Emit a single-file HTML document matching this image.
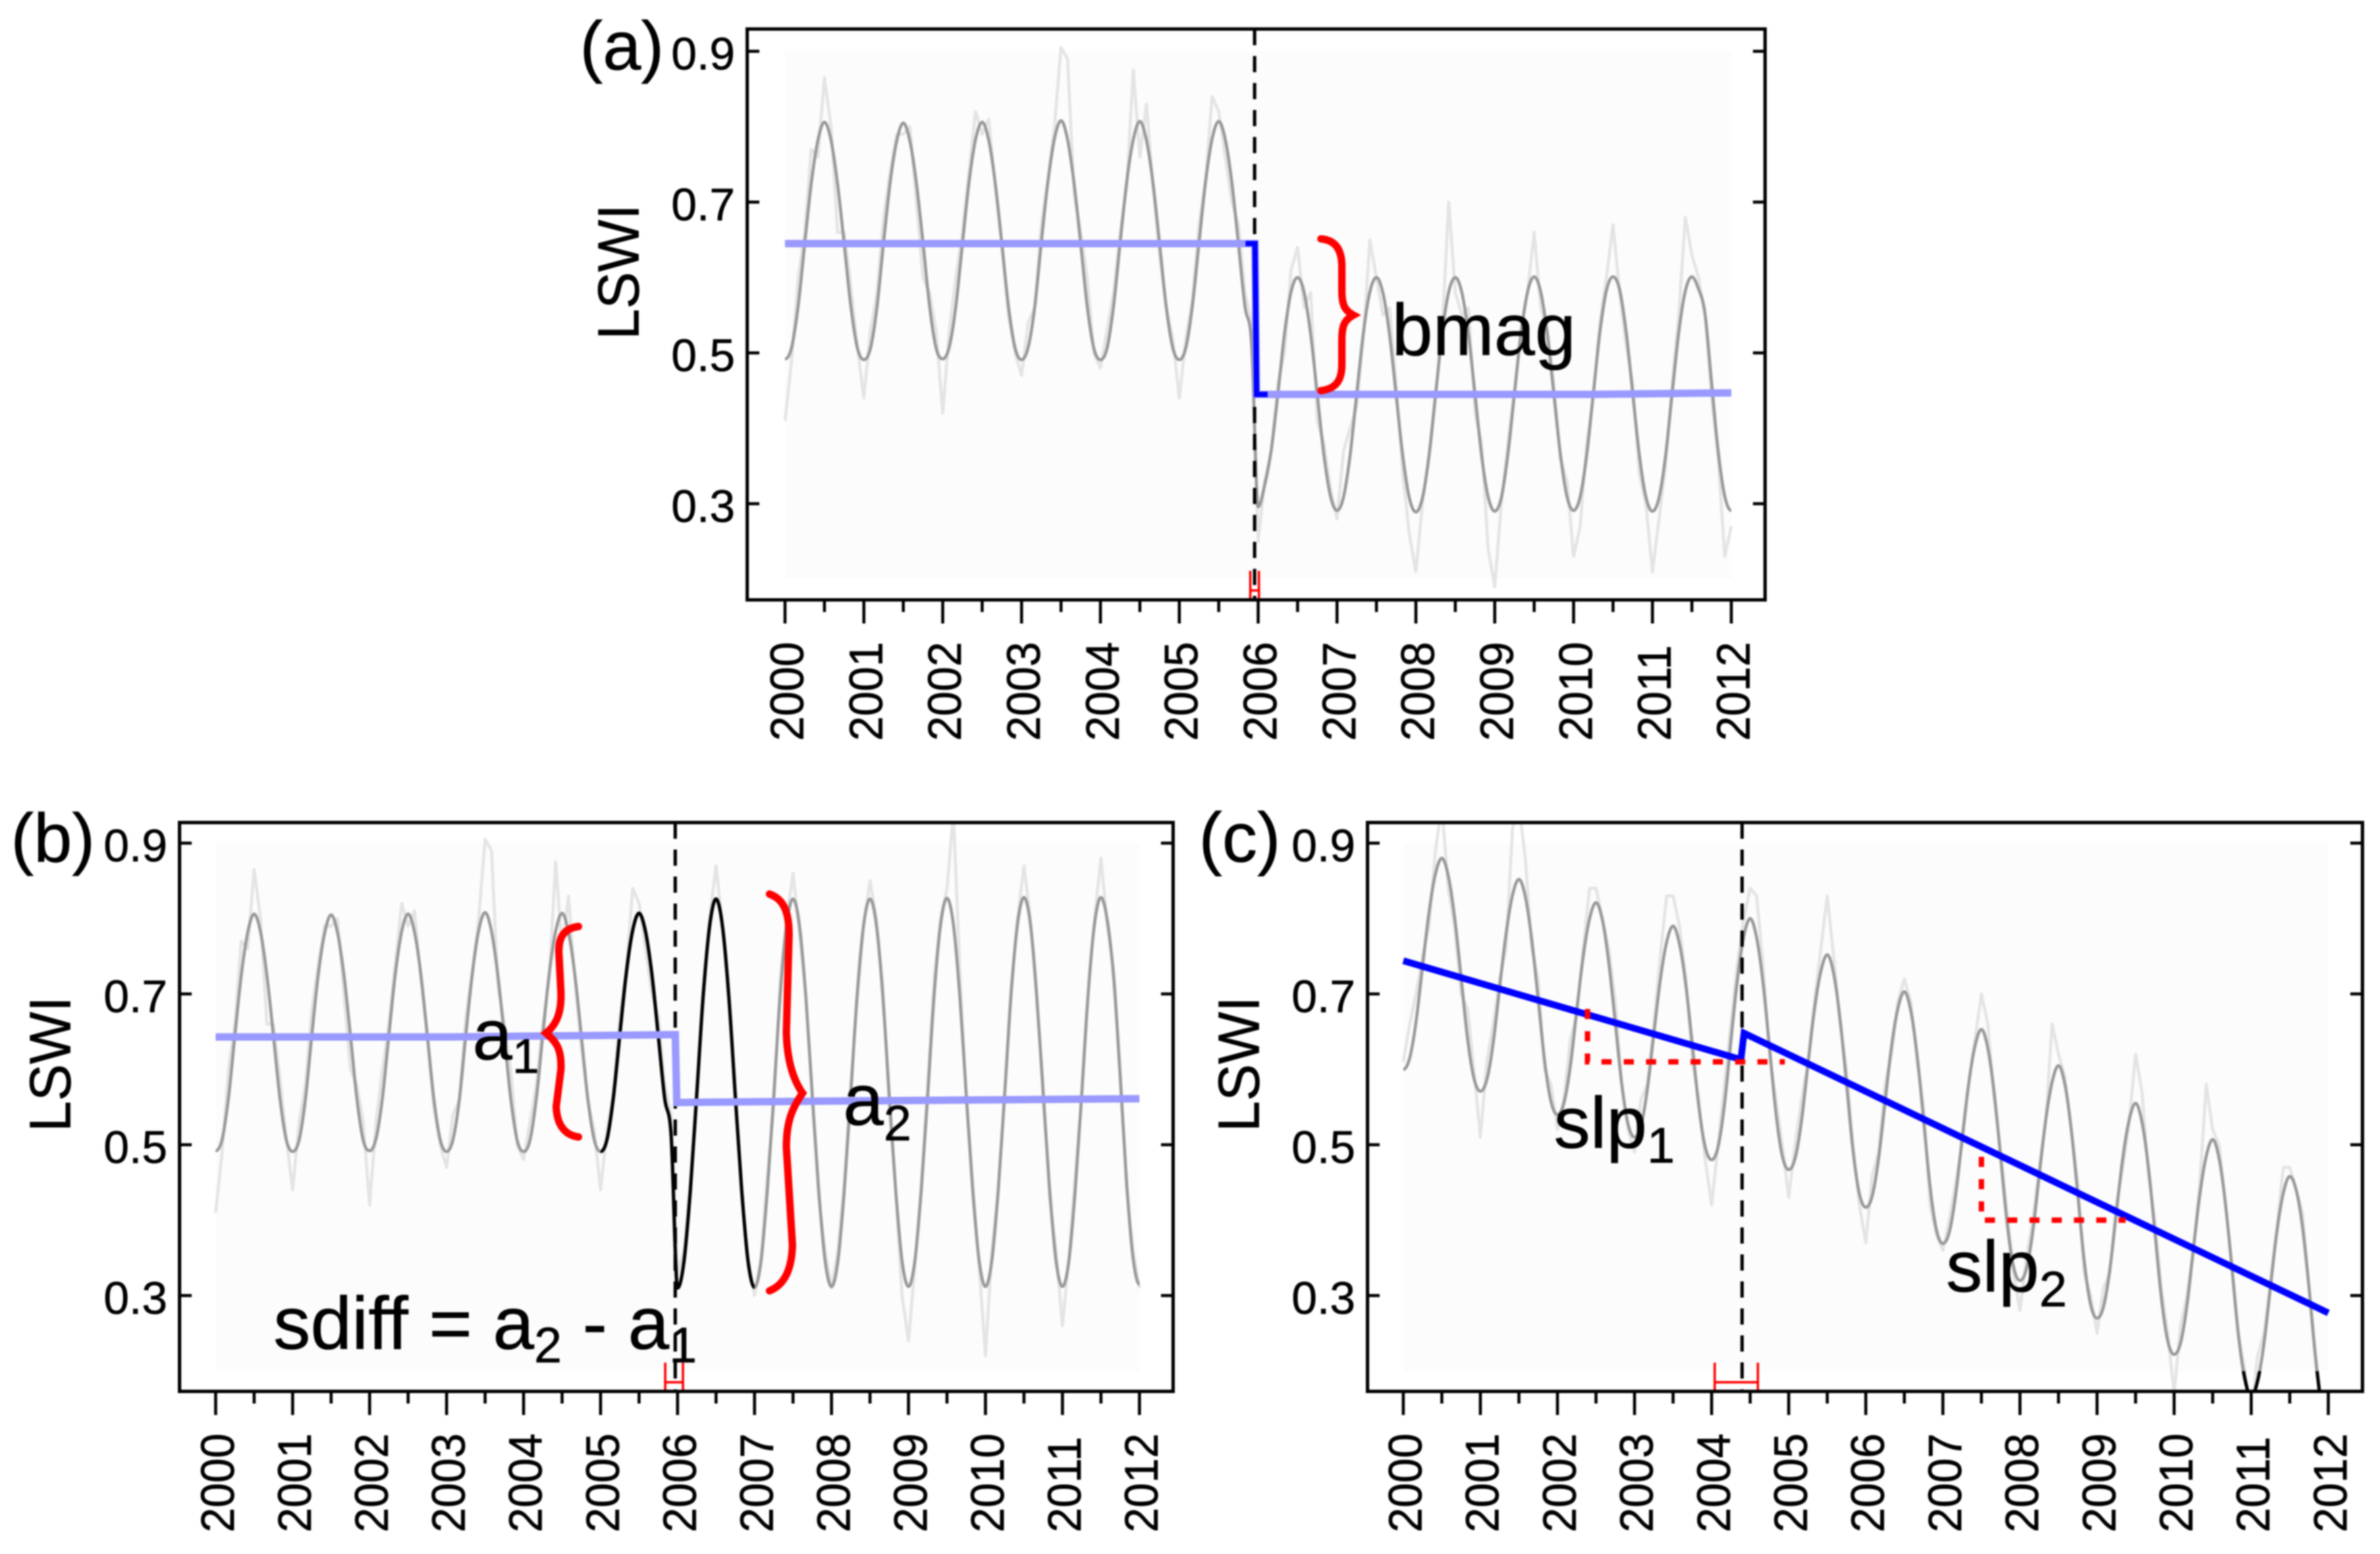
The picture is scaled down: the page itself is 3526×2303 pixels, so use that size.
<!DOCTYPE html>
<html lang="en">
<head>
<meta charset="utf-8">
<title>LSWI breakpoint metrics</title>
<style>
html,body{margin:0;padding:0;background:#fff;width:3526px;height:2303px;overflow:hidden}
svg{display:block;filter:blur(1px)}
text{font-family:"Liberation Sans",Arial,sans-serif;fill:#000;stroke:#000;stroke-width:.6px}
</style>
</head>
<body>
<svg id="figure" xmlns="http://www.w3.org/2000/svg" width="3526" height="2303" viewBox="0 0 3526 2303">
<rect x="0" y="0" width="3526" height="2303" fill="#fff"/>
<defs>
<clipPath id="clip-a"><rect x="1107" y="43" width="1508" height="846"/></clipPath>
<clipPath id="clip-b"><rect x="266" y="1219" width="1472" height="843"/></clipPath>
<clipPath id="clip-c"><rect x="2026" y="1219" width="1474" height="843"/></clipPath>
<clipPath id="clip-c-low"><rect x="2026" y="2032" width="1474" height="30"/></clipPath>
</defs>
<g id="layer-a"></g>
<g id="layer-b"></g>
<g id="layer-c"></g>

<g fill="none" stroke="#ff0000" stroke-width="11" stroke-linecap="round">
<path d="M1957 354 C1980 356 1988 372 1988 395 L1988 430 C1988 452 1992 460 2005 467 C1992 474 1988 482 1988 504 L1988 540 C1988 563 1980 576 1957 579"/>
<path d="M857 1373 C835 1376 827 1390 828 1412 L831 1470 C832 1500 825 1518 809 1531 C825 1545 832 1555 831 1585 L824 1640 C825 1665 835 1682 857 1685"/>
<path d="M1140 1325 C1160 1332 1169 1350 1169 1385 L1165 1530 C1166 1570 1175 1600 1189 1620 C1175 1640 1165 1660 1165 1700 L1174 1845 C1173 1885 1160 1905 1140 1913"/>
</g>

<text x="859" y="103" font-size="102">(a)</text>
<text x="16" y="1277" font-size="102">(b)</text>
<text x="1776" y="1277" font-size="104">(c)</text>

<text transform="translate(946,403) rotate(-90) scale(1,1.05)" text-anchor="middle" font-size="82">LSWI</text>
<text transform="translate(104,1577) rotate(-90) scale(1,1.05)" text-anchor="middle" font-size="82">LSWI</text>
<text transform="translate(1865,1577) rotate(-90) scale(1,1.05)" text-anchor="middle" font-size="82">LSWI</text>

<text x="2062" y="526" font-size="109">bmag</text>
<text x="700" y="1570" font-size="106">a<tspan font-size="72" dy="20">1</tspan></text>
<text x="1249" y="1667" font-size="108">a<tspan font-size="74" dy="23">2</tspan></text>
<text x="405" y="1999" font-size="110">sdiff = a<tspan font-size="74" dy="20">2</tspan><tspan dy="-20"> - a</tspan><tspan font-size="74" dy="20">1</tspan></text>
<text x="2302" y="1701" font-size="108">slp<tspan font-size="74" dy="22">1</tspan></text>
<text x="2883" y="1914" font-size="108">slp<tspan font-size="74" dy="22">2</tspan></text>
</svg>

<script>
// ---- shared axis data ----
const yearTicks = [2000,2001,2002,2003,2004,2005,2006,2007,2008,2009,2010,2011,2012];
const valueTicks = [0.3,0.5,0.7,0.9];
const sampleStep = 1/12;

// ---- panel (a) ----
const seasonalA = [
.492,.507,.562,.645,.725,.782,.806,.782,.724,.645,.563,.507,
.491,.506,.561,.646,.726,.781,.805,.781,.725,.646,.562,.506,
.492,.508,.562,.645,.726,.783,.806,.782,.725,.645,.562,.507,
.491,.507,.561,.646,.726,.784,.808,.783,.724,.644,.561,.506,
.491,.506,.562,.646,.727,.783,.807,.782,.725,.645,.562,.507,
.491,.507,.563,.646,.727,.784,.807,.783,.726,.644,.561,.512,
.296,.325,.372,.445,.525,.581,.600,.580,.524,.445,.365,.310,
.291,.309,.365,.446,.526,.581,.600,.579,.524,.444,.364,.308,
.289,.308,.364,.445,.526,.581,.600,.580,.525,.445,.364,.309,
.290,.308,.365,.446,.526,.581,.601,.581,.525,.445,.365,.309,
.291,.309,.365,.446,.527,.583,.601,.584,.528,.446,.365,.309,
.290,.308,.364,.446,.527,.582,.601,.585,.552,.460,.370,.310,.291];
const rawA = [
.41,.49,.60,.66,.77,.76,.865,.80,.66,.66,.59,.51,
.44,.53,.58,.68,.74,.79,.79,.80,.70,.60,.58,.53,
.42,.53,.60,.66,.74,.82,.79,.81,.72,.64,.55,.50,
.47,.54,.56,.67,.73,.80,.905,.89,.71,.66,.60,.50,
.48,.53,.58,.66,.72,.875,.76,.83,.72,.63,.56,.52,
.44,.52,.57,.67,.73,.84,.82,.76,.70,.67,.58,.54,
.25,.33,.37,.46,.50,.61,.64,.56,.58,.41,.38,.32,
.28,.37,.40,.43,.52,.65,.60,.55,.56,.46,.34,.26,
.21,.30,.36,.44,.53,.70,.58,.55,.56,.42,.38,.24,
.19,.30,.38,.45,.53,.58,.66,.56,.53,.46,.36,.33,
.23,.27,.38,.44,.54,.60,.67,.58,.51,.46,.34,.30,
.21,.28,.35,.46,.55,.68,.63,.60,.55,.44,.36,.23,.27];
const trendTimesA = [2000,2005.96,2005.98,2010.2,2012];
const trendValuesA = [.645,.645,.445,.445,.447];
const breakTimesA = [2005.84,2005.96,2005.98,2006.12];
const breakValuesA = [.645,.645,.445,.445];
const breakYearA = 2005.955;
const ciRangeA = [2005.9,2006.01];

// ---- panel (b) ----
const seasonalB = [
.492,.507,.562,.645,.725,.782,.806,.782,.724,.645,.563,.507,
.491,.506,.561,.646,.726,.781,.805,.781,.725,.646,.562,.506,
.492,.508,.562,.645,.726,.783,.806,.782,.725,.645,.562,.507,
.491,.507,.561,.646,.726,.784,.808,.783,.724,.644,.561,.506,
.491,.506,.562,.646,.727,.783,.807,.782,.725,.645,.562,.507,
.491,.507,.563,.646,.727,.784,.807,.783,.726,.644,.561,.512,
.310,.345,.440,.567,.698,.790,.826,.790,.696,.565,.440,.345,
.311,.345,.440,.566,.698,.791,.826,.791,.696,.566,.440,.346,
.312,.346,.440,.567,.699,.791,.826,.791,.697,.566,.441,.346,
.312,.347,.441,.567,.699,.792,.827,.792,.697,.567,.441,.347,
.312,.347,.441,.568,.700,.793,.828,.793,.697,.567,.441,.346,
.312,.346,.441,.568,.700,.793,.828,.797,.720,.590,.450,.350,.315];
const rawB = [
.41,.49,.60,.66,.77,.76,.865,.80,.66,.66,.59,.51,
.44,.53,.58,.68,.74,.79,.79,.80,.70,.60,.58,.53,
.42,.53,.60,.66,.74,.82,.79,.81,.72,.64,.55,.50,
.47,.54,.56,.67,.73,.80,.905,.89,.71,.66,.60,.50,
.48,.53,.58,.66,.72,.875,.76,.83,.72,.63,.56,.52,
.44,.52,.57,.67,.73,.84,.82,.76,.70,.67,.58,.54,
.33,.36,.45,.58,.69,.80,.87,.79,.69,.58,.43,.35,
.30,.35,.46,.55,.72,.80,.86,.78,.70,.56,.43,.36,
.31,.36,.45,.58,.69,.79,.85,.80,.71,.55,.44,.30,
.24,.34,.45,.58,.72,.80,.84,.94,.73,.56,.45,.34,
.22,.36,.44,.57,.71,.80,.87,.80,.69,.58,.43,.36,
.26,.35,.46,.56,.70,.80,.88,.79,.73,.60,.44,.36,.31];
const trendTimesB = [2000,2003,2005,2005.97,2005.99,2008,2012];
const trendValuesB = [.643,.643,.645,.646,.556,.558,.561];
const blackStartB = 60;
const blackEndB = 84;
const breakYearB = 2005.97;
const ciRangeB = [2005.84,2006.07];

// ---- panel (c) ----
const seasonalC = [
.600,.615,.664,.737,.808,.859,.880,.857,.801,.722,.641,.588,
.571,.586,.635,.709,.780,.831,.852,.829,.772,.693,.611,.557,
.540,.555,.604,.678,.749,.800,.821,.798,.741,.662,.581,.527,
.510,.525,.574,.647,.718,.769,.790,.766,.711,.632,.551,.497,
.480,.497,.553,.637,.718,.776,.800,.775,.715,.630,.543,.485,
.467,.482,.532,.607,.679,.730,.752,.727,.666,.581,.493,.435,
.417,.432,.482,.557,.630,.681,.703,.678,.618,.533,.445,.387,
.369,.384,.434,.508,.580,.631,.653,.628,.568,.483,.396,.338,
.320,.335,.385,.460,.532,.583,.605,.580,.519,.434,.346,.288,
.270,.285,.335,.410,.482,.533,.555,.530,.470,.385,.298,.240,
.222,.237,.287,.362,.434,.485,.507,.482,.421,.336,.248,.190,
.165,.187,.237,.312,.385,.436,.458,.440,.390,.310,.220,.150,.120];
const rawC = [
.61,.66,.70,.75,.79,.89,.95,.84,.79,.70,.68,.60,
.51,.61,.66,.72,.76,.92,.95,.88,.76,.72,.60,.58,
.52,.56,.64,.67,.76,.84,.84,.80,.76,.69,.58,.52,
.49,.56,.58,.66,.75,.83,.83,.79,.72,.61,.56,.48,
.42,.50,.58,.66,.74,.80,.84,.83,.74,.62,.56,.50,
.43,.50,.56,.61,.69,.76,.83,.75,.66,.60,.50,.42,
.37,.46,.49,.58,.62,.69,.72,.69,.61,.55,.42,.38,
.36,.40,.45,.50,.58,.64,.70,.66,.56,.49,.41,.33,
.28,.35,.40,.47,.53,.66,.62,.59,.52,.45,.33,.30,
.25,.31,.33,.42,.47,.53,.62,.57,.46,.40,.31,.25,
.17,.26,.30,.36,.45,.58,.52,.50,.42,.34,.25,.20,
.14,.22,.25,.32,.39,.47,.47,.44,.41,.31,.21,.15,.11];
const trendTimesC = [2000,2004.38,2004.42,2012];
const trendValuesC = [.744,.613,.648,.277];
const breakYearC = 2004.395;
const ciRangeC = [2004.04,2004.6];
const slopeOneTimes = [2002.39,2002.39,2004.95];
const slopeOneValues = [.68,.61,.61];
const slopeTwoTimes = [2007.5,2007.5,2009.37];
const slopeTwoValues = [.484,.40,.40];

// ---- drawing ----
const SVGNS = 'http://www.w3.org/2000/svg';
function mk(parent, tag, attrs){
  const el = document.createElementNS(SVGNS, tag);
  for (const k in attrs) el.setAttribute(k, attrs[k]);
  parent.appendChild(el);
  return el;
}
function pts(times, values, X, Y){
  return times.map((t,i)=>X(t).toFixed(1)+','+Y(values[i]).toFixed(1)).join(' ');
}
// smooth path through the samples; flat tangents at local extrema so troughs stay round without overshoot
function smooth(times, values, X, Y){
  const px = times.map(X), py = values.map(Y);
  const n = px.length;
  const slope = py.map((y,i)=>{
    if (i===0 || i===n-1) return 0;
    const a = y-py[i-1], b = py[i+1]-y;
    if (a*b<=0) return 0;
    return (py[i+1]-py[i-1])/(px[i+1]-px[i-1]);
  });
  let d = 'M'+px[0].toFixed(1)+' '+py[0].toFixed(1);
  for (let i=0;i<n-1;i++){
    const h = (px[i+1]-px[i])/3;
    d += 'C'+(px[i]+h).toFixed(1)+' '+(py[i]+slope[i]*h).toFixed(1)+' '+
         (px[i+1]-h).toFixed(1)+' '+(py[i+1]-slope[i+1]*h).toFixed(1)+' '+
         px[i+1].toFixed(1)+' '+py[i+1].toFixed(1);
  }
  return d;
}
function drawPanel(cfg){
  const g = document.getElementById(cfg.layer);
  const X = t => cfg.x0 + (t-2000)*cfg.pxPerYear;
  const Y = v => cfg.y05 - (v-0.5)*1117.5;
  const clip = 'url(#'+cfg.clip+')';
  const times = cfg.seasonal.map((_,i)=>2000+i*sampleStep);

  const bg = mk(g,'rect',{x:X(2000),y:Y(0.9),width:X(2012)-X(2000),height:cfg.bgBottom-Y(0.9),fill:'#fcfcfc'});
  
  

  const raw = mk(g,'polyline',{points:pts(times,cfg.raw,X,Y),fill:'none',stroke:'#e4e4e4','stroke-width':4.5,'clip-path':clip,'stroke-linejoin':'round'});
  
  

  const seas = mk(g,'path',{d:smooth(times,cfg.seasonal,X,Y),fill:'none',stroke:'#999999','stroke-width':4.5,'clip-path':clip,'stroke-linejoin':'round'});
  
  

  if (cfg.blackRange){
    const a = cfg.blackRange[0], b = cfg.blackRange[1];
    const seg = mk(g,'path',{d:smooth(times.slice(a,b+1),cfg.seasonal.slice(a,b+1),X,Y),fill:'none',stroke:'#000','stroke-width':5,'stroke-linejoin':'round'});
    
    
  }
  if (cfg.lowClip){
    const low = mk(g,'path',{d:smooth(times,cfg.seasonal,X,Y),fill:'none',stroke:'#000','stroke-width':5,'clip-path':'url(#'+cfg.lowClip+')'});
    
    
  }

  const dash = mk(g,'line',{x1:X(cfg.breakYear),x2:X(cfg.breakYear),y1:cfg.top,y2:cfg.bottom,stroke:'#000','stroke-width':5,'stroke-dasharray':'24 16'});
  
  

  const trend = mk(g,'polyline',{points:pts(cfg.trendT,cfg.trendV,X,Y),fill:'none',stroke:cfg.trendColor,'stroke-width':cfg.trendWidth,'stroke-linejoin':'miter'});
  
  

  if (cfg.breakT){
    const brk = mk(g,'polyline',{points:pts(cfg.breakT,cfg.breakV,X,Y),fill:'none',stroke:'#0000ff','stroke-width':8,'stroke-linejoin':'miter'});
    
    
  }

  (cfg.slopes||[]).forEach(s=>{
    const sl = mk(g,'polyline',{points:pts(s[0],s[1],X,Y),fill:'none',stroke:'#ff0000','stroke-width':8,'stroke-dasharray':'15 18'});
    
    
  });

  // breakpoint confidence interval
  const ciL = X(cfg.ci[0]), ciR = X(cfg.ci[1]);
  const capTop = Y(0.211), ciMid = Y(0.185);
  [ciL,ciR].forEach(x=>{
    const c = mk(g,'line',{x1:x,x2:x,y1:capTop,y2:cfg.bottom,stroke:'#ff0000','stroke-width':3.5});
    
    
  });
  const ciBar = mk(g,'line',{x1:ciL,x2:ciR,y1:ciMid,y2:ciMid,stroke:'#ff0000','stroke-width':3.5});
  
  

  // box
  const box = mk(g,'rect',{x:cfg.left,y:cfg.top,width:cfg.right-cfg.left,height:cfg.bottom-cfg.top,fill:'none',stroke:'#000','stroke-width':5});
  
  

  // x ticks
  yearTicks.forEach((yr,i)=>{
    const x = X(yr);
    const t = mk(g,'line',{x1:x,x2:x,y1:cfg.bottom,y2:cfg.bottom+35,stroke:'#000','stroke-width':4.5});
    
    
    if (i<yearTicks.length-1){
      const m = mk(g,'line',{x1:X(yr+0.5),x2:X(yr+0.5),y1:cfg.bottom,y2:cfg.bottom+18,stroke:'#000','stroke-width':4.5});
      
      
    }
    const lab = mk(g,'text',{transform:'translate('+(x+27)+','+(cfg.bottom+209)+') rotate(-90) scale(1,1.05)','font-size':66});
    
    
    lab.textContent = yr;
  });
  // y ticks
  valueTicks.forEach(v=>{
    const y = Y(v);
    const l = mk(g,'line',{x1:cfg.left,x2:cfg.left+18,y1:y,y2:y,stroke:'#000','stroke-width':4.5});
    
    
    const r = mk(g,'line',{x1:cfg.right-18,x2:cfg.right,y1:y,y2:y,stroke:'#000','stroke-width':4.5});
    
    
    const lab = mk(g,'text',{x:cfg.left-18,y:y+27,'text-anchor':'end','font-size':68});
    
    
    lab.textContent = v.toFixed(1);
  });
}

drawPanel({layer:'layer-a',clip:'clip-a',x0:1163,pxPerYear:116.83,y05:523,left:1107,right:2615,top:43,bottom:889,bgBottom:857,
  seasonal:seasonalA,raw:rawA,trendT:trendTimesA,trendV:trendValuesA,trendColor:'#9999ff',trendWidth:11,
  breakT:breakTimesA,breakV:breakValuesA,breakYear:breakYearA,ci:ciRangeA});
drawPanel({layer:'layer-b',clip:'clip-b',x0:319.5,pxPerYear:114.05,y05:1696.5,left:266,right:1738,top:1219,bottom:2062,bgBottom:2032,
  seasonal:seasonalB,raw:rawB,trendT:trendTimesB,trendV:trendValuesB,trendColor:'#9999ff',trendWidth:11,
  blackRange:[blackStartB,blackEndB],breakYear:breakYearB,ci:ciRangeB});
drawPanel({layer:'layer-c',clip:'clip-c',x0:2079,pxPerYear:114.2,y05:1696.5,left:2026,right:3500,top:1219,bottom:2062,bgBottom:2032,
  seasonal:seasonalC,raw:rawC,trendT:trendTimesC,trendV:trendValuesC,trendColor:'#0000ff',trendWidth:10,
  lowClip:'clip-c-low',breakYear:breakYearC,ci:ciRangeC,
  slopes:[[slopeOneTimes,slopeOneValues],[slopeTwoTimes,slopeTwoValues]]});
</script>
</body>
</html>
